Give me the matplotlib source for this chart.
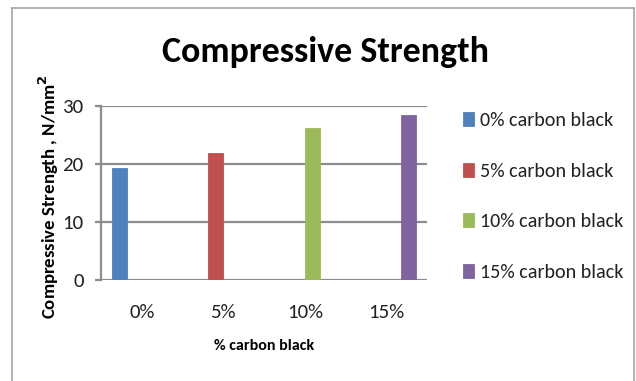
import matplotlib
matplotlib.use("Agg")
import matplotlib.pyplot as plt
from matplotlib import font_manager
from matplotlib.lines import Line2D
import numpy as np

# Chart data
categories = ["0%", "5%", "10%", "15%"]
series_names = ["0% carbon black", "5% carbon black", "10% carbon black", "15% carbon black"]
strength = [19.2, 21.9, 26.1, 28.4]
colors = ["#4F81BD", "#C0504D", "#9BBB59", "#8064A2"]
y_ticks = [0, 10, 20, 30]

available = {f.name for f in font_manager.fontManager.ttflist}


def pick(cands):
    for c in cands:
        if c in available:
            return c
    return "DejaVu Sans"


body_font = pick(["Carlito", "Liberation Sans Narrow", "Roboto Condensed",
                  "Open Sans Condensed", "Lato", "DejaVu Sans"])
plt.rcParams["font.family"] = [body_font, "DejaVu Sans"]

W, H = 636, 381
fig = plt.figure(figsize=(W / 100, H / 100), dpi=100)
fig.patch.set_facecolor("white")

# outer chart frame
frame_kw = dict(color="#A6A6A6", lw=1.2, transform=fig.transFigure)
fx0, fx1 = 12 / W, 634 / W
fy_top = 1 - 7.5 / H
fig.add_artist(Line2D([fx0, fx1], [fy_top, fy_top], **frame_kw))
fig.add_artist(Line2D([fx0, fx0], [fy_top, 0], **frame_kw))
fig.add_artist(Line2D([fx1, fx1], [fy_top, 0], **frame_kw))

ax_l, ax_r, ax_t, ax_b = 101, 427, 105.7, 280
ax = fig.add_axes([ax_l / W, 1 - ax_b / H, (ax_r - ax_l) / W, (ax_b - ax_t) / H])

n = len(series_names)
x = np.arange(len(categories))
bar_w = 0.184
for i, (name, val, col) in enumerate(zip(series_names, strength, colors)):
    offset = (i - (n - 1) / 2) * bar_w
    ax.bar(x[i] + offset, val, width=bar_w, color=col, label=name,
           edgecolor=col, linewidth=0.6, zorder=3)

ax.set_xlim(-0.5, len(categories) - 0.5)
ax.set_ylim(0, 30)
ax.set_yticks(y_ticks)
ax.set_xticks(x)
ax.set_xticklabels(categories)

grid_c = "#8C8C8C"
ax.grid(axis="y", color=grid_c, lw=1.6, zorder=1)
ax.set_axisbelow(True)
for s in ["top", "right", "bottom"]:
    ax.spines[s].set_visible(False)
ax.spines["left"].set_color(grid_c)
ax.spines["left"].set_linewidth(1.6)
ax.tick_params(axis="y", length=4.5, width=1.6, color=grid_c, pad=8,
               labelsize=15, labelcolor="#222222")
ax.tick_params(axis="x", length=0, pad=17.5, labelsize=15, labelcolor="#222222")

ax.set_xlabel("% carbon black", fontsize=11.5, fontweight="bold", labelpad=13)
ax.set_ylabel("Compressive Strength , N/mm$^\\mathbf{2}$", fontsize=13.5,
              fontweight="bold")
ax.yaxis.set_label_coords(-(ax_l - 61) / (ax_r - ax_l), 0.477)

fig.text(325 / W, 1 - 52 / H, "Compressive Strength", ha="center", va="center",
         fontsize=25.8, fontweight="bold")

leg = ax.legend(loc="upper left", bbox_to_anchor=(463 / W, 1 - 112 / H),
                bbox_transform=fig.transFigure, frameon=False, fontsize=14.5,
                handlelength=0.55, handleheight=0.7, handletextpad=0.3,
                labelspacing=1.66, borderpad=0, borderaxespad=0)
for t in leg.get_texts():
    t.set_color("#222222")

fig.savefig("out.png", dpi=100)
